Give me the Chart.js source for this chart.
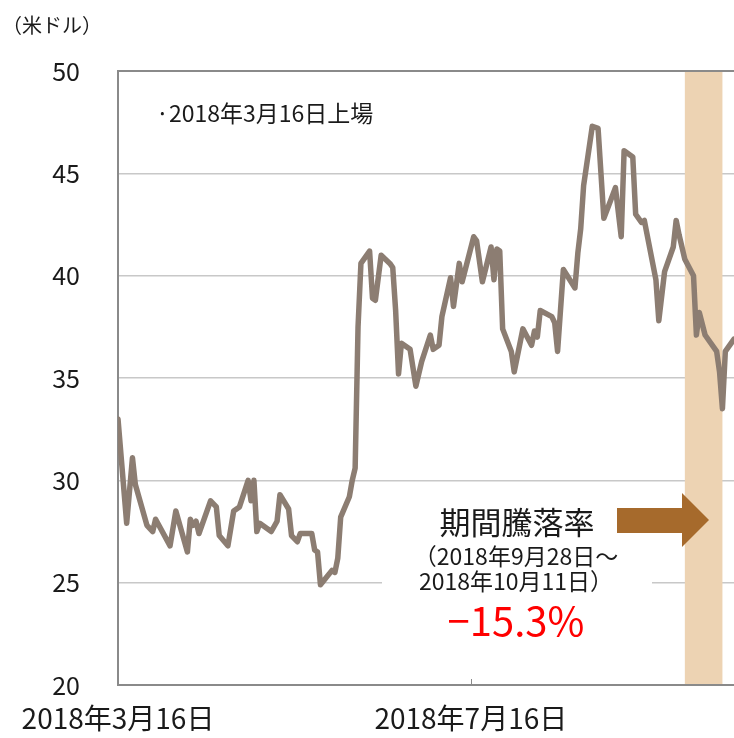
<!DOCTYPE html>
<html><head><meta charset="utf-8">
<script src="https://cdn.jsdelivr.net/npm/chart.js@4/dist/chart.umd.min.js"></script>
<style>html,body{margin:0;padding:0;background:#fff;}</style>
</head><body>
<canvas id="c" width="734" height="738"></canvas>
<script>
// ---- data ----
const dates = [
"2018-03-16","2018-03-19","2018-03-21","2018-03-22","2018-03-26","2018-03-28","2018-03-29",
"2018-04-03","2018-04-05","2018-04-09","2018-04-10","2018-04-11","2018-04-12","2018-04-13",
"2018-04-17","2018-04-19","2018-04-20","2018-04-23","2018-04-25","2018-04-27","2018-04-30",
"2018-05-01","2018-05-02","2018-05-03","2018-05-04","2018-05-08","2018-05-10","2018-05-11",
"2018-05-14","2018-05-15","2018-05-17","2018-05-18","2018-05-22","2018-05-23","2018-05-24",
"2018-05-25","2018-05-29","2018-05-30","2018-05-31","2018-06-01","2018-06-04","2018-06-05",
"2018-06-06","2018-06-07","2018-06-08","2018-06-11","2018-06-12","2018-06-13","2018-06-15",
"2018-06-18","2018-06-19","2018-06-20","2018-06-21","2018-06-22","2018-06-25","2018-06-27",
"2018-06-29","2018-07-02","2018-07-03","2018-07-05","2018-07-06","2018-07-09","2018-07-10",
"2018-07-12","2018-07-13","2018-07-17","2018-07-18","2018-07-20","2018-07-23","2018-07-24",
"2018-07-25","2018-07-26","2018-07-27","2018-07-30","2018-07-31","2018-08-03","2018-08-06",
"2018-08-07","2018-08-08","2018-08-09","2018-08-13","2018-08-14","2018-08-15","2018-08-17",
"2018-08-21","2018-08-22","2018-08-23","2018-08-24","2018-08-27","2018-08-29","2018-08-31",
"2018-09-04","2018-09-06","2018-09-07","2018-09-10","2018-09-11","2018-09-13","2018-09-14",
"2018-09-18","2018-09-19","2018-09-21","2018-09-24","2018-09-25","2018-09-26","2018-09-28",
"2018-10-01","2018-10-02","2018-10-03","2018-10-05","2018-10-09","2018-10-10","2018-10-11",
"2018-10-12","2018-10-15"];
const prices = [
33.0,27.9,31.1,29.8,27.8,27.5,28.1,
26.8,28.5,26.5,28.1,27.8,28.0,27.4,
29.0,28.7,27.3,26.8,28.5,28.7,30.0,
29.0,30.0,27.5,27.9,27.5,28.0,29.3,
28.6,27.3,27.0,27.4,27.4,26.6,26.5,
24.9,25.6,25.5,26.2,28.2,29.2,30.0,
30.6,37.5,40.6,41.2,38.9,38.8,41.0,
40.6,40.4,38.3,35.2,36.7,36.4,34.6,
35.8,37.1,36.4,36.6,38.0,39.9,38.5,
40.6,39.7,41.9,41.7,39.7,41.4,39.8,
41.3,41.2,37.4,36.3,35.3,37.4,36.6,
37.3,37.0,38.3,38.0,37.7,36.3,40.3,
39.4,41.1,42.3,44.4,47.3,47.2,42.8,
44.3,41.9,46.1,45.8,43.0,42.6,42.7,
39.8,37.8,40.2,41.4,42.7,42.0,40.8,
40.0,37.1,38.2,37.1,36.3,35.3,33.5,
36.3,36.9];
const yTickValues = [20,25,30,35,40,45,50];
const xTickDates = ["2018-03-16","2018-07-16"];
const xTickLabels = ["2018年3月16日","2018年7月16日"];
const axisStart = "2018-03-16";
const axisEnd = "2018-10-15";
const bandStart = "2018-09-28";
const bandEnd = "2018-10-11";
const unitLabel = "（米ドル）";
const listingNote = "·2018年3月16日上場";
const boxTitle = "期間騰落率";
const boxPeriod = ["（2018年9月28日～","2018年10月11日）"];
const boxChange = "−15.3%";

// ---- helpers ----
function dayOffset(s){
  const p = s.split("-").map(Number), q = axisStart.split("-").map(Number);
  return Math.round((Date.UTC(p[0],p[1]-1,p[2]) - Date.UTC(q[0],q[1]-1,q[2]))/86400000);
}
const FONT = '"Noto Sans CJK JP","Noto Sans",sans-serif';
const points = dates.map((d,i)=>({x: dayOffset(d), y: prices[i]}));
const xTickVals = xTickDates.map(dayOffset);

const overlay = {
  id: 'overlay',
  beforeDatasetsDraw(chart){
    const {ctx, chartArea:a, scales:{x,y}} = chart;
    ctx.save();
    const x0 = x.getPixelForValue(dayOffset(bandStart)), x1 = x.getPixelForValue(dayOffset(bandEnd));
    ctx.fillStyle = '#EDD3B3';
    ctx.fillRect(x0, a.top+1, x1-x0, a.bottom-a.top-2);
    ctx.fillStyle = '#ffffff';
    ctx.fillRect(382, y.getPixelForValue(29.4), 270, y.getPixelForValue(21.5)-y.getPixelForValue(29.4));
    const tx = Math.round(x.getPixelForValue(xTickVals[1]))+0.5;
    ctx.strokeStyle = '#8a8a8a'; ctx.lineWidth = 1;
    ctx.beginPath(); ctx.moveTo(tx, a.bottom-6); ctx.lineTo(tx, a.bottom); ctx.stroke();
    ctx.restore();
  },
  afterDatasetsDraw(chart){
    const {ctx} = chart;
    ctx.save();
    ctx.fillStyle = '#1a1a1a';
    ctx.textBaseline = 'middle';
    ctx.textAlign = 'left';
    ctx.font = '20px ' + FONT;
    ctx.fillText(unitLabel, 2, 25);
    ctx.font = '23px ' + FONT;
    ctx.fillText(listingNote, 156, 113);
    ctx.textAlign = 'center';
    ctx.font = '31px ' + FONT;
    ctx.fillText(boxTitle, 517, 522);
    ctx.font = '23px ' + FONT;
    ctx.fillText(boxPeriod[0], 516, 556);
    ctx.fillText(boxPeriod[1], 516, 581);
    ctx.fillStyle = '#FF0000';
    ctx.font = '40px ' + FONT;
    ctx.fillText(boxChange, 516, 621);
    ctx.fillStyle = '#A66A2C';
    ctx.beginPath();
    ctx.moveTo(617, 508); ctx.lineTo(682, 508); ctx.lineTo(682, 493); ctx.lineTo(709, 520);
    ctx.lineTo(682, 547); ctx.lineTo(682, 533); ctx.lineTo(617, 533); ctx.closePath();
    ctx.fill();
    ctx.restore();
  }
};

new Chart(document.getElementById('c'), {
  type: 'line',
  data: { datasets: [{
    data: points, borderColor: '#8C7D72', borderWidth: 5.5, pointRadius: 0,
    tension: 0, borderCapStyle: 'round', borderJoinStyle: 'round', fill: false
  }]},
  options: {
    responsive: false, animation: false, devicePixelRatio: 1,
    layout: { padding: { top: 71, right: 0, left: 0, bottom: 0 } },
    plugins: { legend: {display:false}, tooltip: {enabled:false} },
    scales: {
      x: {
        type: 'linear', min: 0, max: dayOffset(axisEnd),
        afterBuildTicks(s){ s.ticks = xTickVals.map(v=>({value:v})); },
        afterFit(s){ s.height = 51; },
        grid: { display: false, drawTicks: false },
        border: { display: true, color: '#8a8a8a', width: 2 },
        ticks: { autoSkip: false, maxRotation: 0, padding: 17, color: '#1a1a1a',
          font: { family: FONT, size: 28 },
          callback(v){ const i = xTickVals.indexOf(v); return i>=0 ? xTickLabels[i] : ''; } }
      },
      y: {
        min: 20, max: 50,
        afterBuildTicks(s){ s.ticks = yTickValues.map(v=>({value:v})); },
        afterFit(s){ s.width = 118; },
        grid: { drawTicks: false,
          color: c => c.tick && c.tick.value === 50 ? '#8a8a8a' : (c.tick && c.tick.value === 20 ? 'rgba(0,0,0,0)' : '#c8c8c8'),
          lineWidth: c => c.tick && c.tick.value === 50 ? 2 : 1.5 },
        border: { display: true, color: '#8a8a8a', width: 2 },
        ticks: { padding: 38, color: '#1a1a1a', font: { family: FONT, size: 25 } }
      }
    }
  },
  plugins: [overlay]
});
</script>
</body></html>
